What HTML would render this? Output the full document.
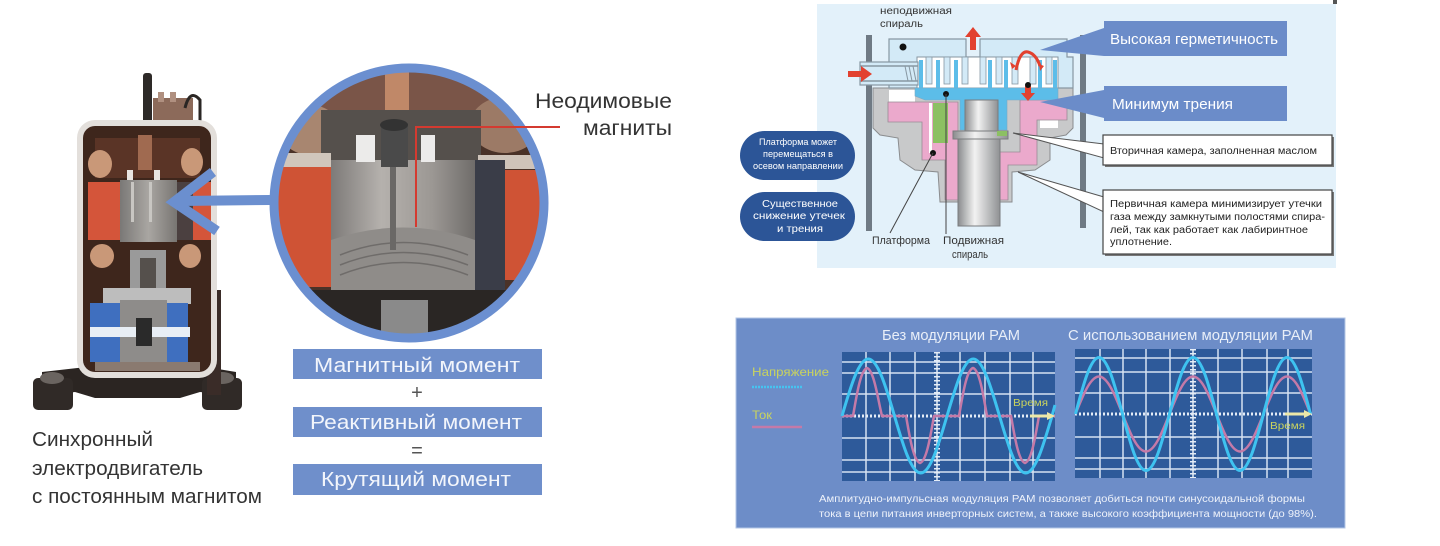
<!DOCTYPE html>
<html><head><meta charset="utf-8"><style>
html,body{margin:0;padding:0;background:#fff;}
svg{display:block;}
text{font-family:"Liberation Sans","DejaVu Sans",sans-serif;}
</style></head><body>
<svg width="1440" height="546" viewBox="0 0 1440 546" xmlns="http://www.w3.org/2000/svg">
<defs>
  <clipPath id="cc"><circle cx="409" cy="203" r="131"/></clipPath>
  <linearGradient id="shaft" x1="0" x2="1" y1="0" y2="0">
    <stop offset="0" stop-color="#8a8c8e"/><stop offset="0.4" stop-color="#f2f2f2"/><stop offset="1" stop-color="#8f9193"/>
  </linearGradient>
  <linearGradient id="rot" x1="0" x2="1" y1="0" y2="0">
    <stop offset="0" stop-color="#7d7a78"/><stop offset="0.35" stop-color="#b5b1ad"/><stop offset="0.7" stop-color="#9c9894"/><stop offset="1" stop-color="#6f6c6a"/>
  </linearGradient>
  <linearGradient id="rot2" x1="0" x2="1" y1="0" y2="0">
    <stop offset="0" stop-color="#7a7876"/><stop offset="0.5" stop-color="#a9a6a2"/><stop offset="1" stop-color="#787572"/>
  </linearGradient>
</defs>

<!-- ================= LEFT: compressor ================= -->
<!-- antenna & terminals -->
<rect x="143" y="73" width="9" height="50" rx="3" fill="#2e2a28"/>
<rect x="153" y="98" width="40" height="25" fill="#8c6a5a"/>
<rect x="158" y="92" width="6" height="10" fill="#b09080"/>
<rect x="170" y="92" width="6" height="10" fill="#b09080"/>
<path d="M185 108 Q190 88 200 100 L200 123" stroke="#2a2624" stroke-width="3" fill="none"/>
<!-- base -->
<path d="M42 372 L95 366 L200 366 L236 372 L236 396 L200 392 L180 398 L95 398 L75 392 L42 396 Z" fill="#2b2522"/>
<rect x="33" y="378" width="40" height="32" rx="5" fill="#302a27"/>
<rect x="202" y="378" width="40" height="32" rx="5" fill="#302a27"/>
<ellipse cx="52" cy="378" rx="12" ry="6" fill="#6a6460"/>
<ellipse cx="222" cy="378" rx="12" ry="6" fill="#6a6460"/>
<rect x="207" y="290" width="14" height="105" fill="#3a2c28"/>
<!-- shell -->
<rect x="77" y="120" width="140" height="258" rx="18" fill="#e3dfdb"/>
<rect x="83" y="126" width="128" height="246" rx="12" fill="#3e261c"/>
<!-- upper windings -->
<rect x="95" y="138" width="105" height="40" fill="#5a3426"/>
<rect x="138" y="135" width="14" height="35" fill="#a06a50"/>
<ellipse cx="100" cy="164" rx="12" ry="14" fill="#c99878"/>
<ellipse cx="192" cy="162" rx="11" ry="14" fill="#c99878"/>
<rect x="127" y="170" width="6" height="12" fill="#e8e4e0"/>
<rect x="154" y="170" width="6" height="12" fill="#e8e4e0"/>
<!-- red blocks & rotor -->
<rect x="88" y="182" width="32" height="58" fill="#d4553a"/>
<rect x="193" y="182" width="18" height="58" fill="#d4553a"/>
<rect x="177" y="182" width="16" height="58" fill="#4b4040"/>
<rect x="120" y="180" width="57" height="62" fill="url(#rot2)"/>
<rect x="131" y="182" width="3" height="40" fill="#c8c6c2"/>
<rect x="149" y="182" width="3" height="40" fill="#c8c6c2"/>
<!-- lower windings -->
<ellipse cx="102" cy="256" rx="12" ry="12" fill="#c99878"/>
<ellipse cx="190" cy="256" rx="11" ry="12" fill="#c99878"/>
<rect x="130" y="250" width="36" height="50" fill="#9a9a9a"/>
<rect x="140" y="258" width="16" height="30" fill="#55504c"/>
<rect x="103" y="288" width="88" height="16" fill="#bdbdbd"/>
<!-- blue & mechanism -->
<rect x="90" y="303" width="30" height="24" fill="#3f6fbf"/>
<rect x="90" y="337" width="30" height="25" fill="#3f6fbf"/>
<rect x="167" y="303" width="21" height="24" fill="#3f6fbf"/>
<rect x="167" y="337" width="21" height="25" fill="#3f6fbf"/>
<rect x="120" y="300" width="47" height="65" fill="#8e8c8a"/>
<rect x="90" y="327" width="100" height="10" fill="#e8eef5"/>
<rect x="136" y="318" width="16" height="28" fill="#2a2a2a"/>
<rect x="95" y="362" width="105" height="9" fill="#8a7a70"/>
<!-- blue arrow -->
<line x1="270" y1="200" x2="180" y2="201" stroke="#6b8fcf" stroke-width="10"/>
<polyline points="213,172 174,202 217,231" fill="none" stroke="#6b8fcf" stroke-width="10" stroke-linejoin="miter"/>

<!-- circle zoom -->
<g clip-path="url(#cc)">
  <rect x="270" y="60" width="280" height="290" fill="#4a3228"/>
  <rect x="270" y="60" width="280" height="55" fill="#7a5548"/>
  <ellipse cx="310" cy="130" rx="30" ry="25" fill="#a88670"/>
  <ellipse cx="505" cy="125" rx="35" ry="28" fill="#9c7a66"/>
  <rect x="385" y="70" width="24" height="40" fill="#c08868"/>
  <rect x="321" y="110" width="160" height="52" fill="#55504c"/>
  <rect x="278" y="153" width="53" height="16" fill="#d0c6bc"/>
  <rect x="478" y="155" width="60" height="14" fill="#cfc4ba"/>
  <rect x="276" y="167" width="55" height="120" fill="#cf5335"/>
  <rect x="471" y="160" width="34" height="130" fill="#3a3d48"/>
  <rect x="505" y="170" width="35" height="110" fill="#cf5335"/>
  <rect x="331" y="160" width="144" height="137" fill="url(#rot)"/>
  <path d="M331 240 Q403 215 475 240 L475 297 L331 297 Z" fill="#8f8c89"/>
  <path d="M340 255 Q403 230 468 255 M340 265 Q403 240 468 265 M340 275 Q403 250 468 275" stroke="#6f6c6a" stroke-width="1.5" fill="none"/>
  <rect x="390" y="165" width="6" height="85" fill="#6a6866"/>
  <rect x="356" y="135" width="19" height="27" fill="#ecebea"/>
  <rect x="421" y="135" width="14" height="27" fill="#ecebea"/>
  <rect x="381" y="123" width="27" height="44" fill="#4a4a4a"/>
  <ellipse cx="394" cy="125" rx="14" ry="6" fill="#333"/>
  <rect x="270" y="290" width="280" height="60" fill="#2a2624"/>
  <rect x="381" y="300" width="47" height="50" fill="#8a8a8a"/>
</g>
<circle cx="409" cy="203" r="135" fill="none" stroke="#6b8fd0" stroke-width="9"/>
<polyline points="416,227 416,127 560,127" fill="none" stroke="#d43a30" stroke-width="2"/>

<text x="535" y="108" font-size="21" fill="#333" textLength="137" lengthAdjust="spacingAndGlyphs">Неодимовые</text>
<text x="583" y="135" font-size="21" fill="#333" textLength="89" lengthAdjust="spacingAndGlyphs">магниты</text>

<!-- formula boxes -->
<rect x="293" y="349" width="249" height="30" fill="#6f8fcb"/>
<rect x="293" y="407" width="249" height="30" fill="#6f8fcb"/>
<rect x="293" y="464" width="249" height="31" fill="#6f8fcb"/>
<text x="314" y="372" font-size="20" fill="#f2f5fb" textLength="206" lengthAdjust="spacingAndGlyphs">Магнитный момент</text>
<text x="417" y="399" font-size="20" fill="#555" text-anchor="middle">+</text>
<text x="310" y="429" font-size="20" fill="#f2f5fb" textLength="212" lengthAdjust="spacingAndGlyphs">Реактивный момент</text>
<text x="417" y="457" font-size="20" fill="#555" text-anchor="middle">=</text>
<text x="321" y="486" font-size="20" fill="#f2f5fb" textLength="190" lengthAdjust="spacingAndGlyphs">Крутящий момент</text>

<text x="32" y="446" font-size="20" fill="#333" textLength="121" lengthAdjust="spacingAndGlyphs">Синхронный</text>
<text x="32" y="475" font-size="20" fill="#333" textLength="171" lengthAdjust="spacingAndGlyphs">электродвигатель</text>
<text x="32" y="503" font-size="20" fill="#333" textLength="230" lengthAdjust="spacingAndGlyphs">с постоянным магнитом</text>

<!-- ================= RIGHT TOP: scroll diagram ================= -->
<rect x="817" y="4" width="519" height="264" fill="#e3f1fa"/>
<rect x="1333" y="0" width="4" height="4" fill="#555"/>

<!-- bars -->
<rect x="866" y="35" width="6" height="196" fill="#6f7a84"/>
<rect x="1080" y="35" width="6" height="193" fill="#6f7a84"/>

<!-- grey frame -->
<polygon points="873,88 1073,88 1073,128 1066,135 1050,138 1050,160 1035,170 1012,172 1012,202 940,202 938,172 915,170 900,160 898,138 880,135 873,128" fill="#c8c9ca" stroke="#8a8c8e" stroke-width="1"/>
<rect x="889" y="90" width="26" height="13" fill="#ffffff"/>
<rect x="1040" y="120" width="18" height="8" fill="#ffffff"/>
<!-- pink -->
<polygon points="888,102 958,102 958,200 945,200 945,160 922,160 922,122 888,122" fill="#eba9cc" stroke="#9a8a95" stroke-width="0.8"/>
<polygon points="1020,100 1067,100 1067,120 1037,120 1037,165 1008,165 1008,200 998,200 998,152 1020,152" fill="#eba9cc" stroke="#9a8a95" stroke-width="0.8"/>
<rect x="933" y="103" width="15" height="40" fill="#8cc063"/>
<rect x="929" y="103" width="3" height="50" fill="#ffffff"/>

<!-- fixed scroll -->
<polygon points="889,39 966,39 966,57 980,57 980,39 1067,39 1067,57 1073,57 1073,88 889,88" fill="#d3eaf7" stroke="#8797a2" stroke-width="1.2"/>
<rect x="917" y="57" width="141" height="31" fill="#ffffff" stroke="#8797a2" stroke-width="1"/>
<g fill="#d3eaf7" stroke="#8797a2" stroke-width="0.8">
  <rect x="926" y="57" width="6" height="27"/><rect x="944" y="57" width="6" height="27"/>
  <rect x="962" y="57" width="6" height="27"/><rect x="980" y="57" width="6" height="27"/>
  <rect x="996" y="57" width="6" height="27"/><rect x="1012" y="57" width="6" height="27"/>
  <rect x="1030" y="57" width="6" height="27"/><rect x="1046" y="57" width="6" height="27"/>
</g>
<g fill="#5cbde9">
  <rect x="919" y="60" width="4" height="30"/><rect x="936" y="60" width="4" height="30"/>
  <rect x="954" y="60" width="4" height="30"/><rect x="988" y="60" width="4" height="30"/>
  <rect x="1004" y="60" width="4" height="30"/><rect x="1038" y="60" width="4" height="30"/>
  <rect x="1053" y="60" width="4" height="30"/>
</g>
<!-- inlet pipe -->
<rect x="860" y="62" width="58" height="23" fill="#d3eaf7" stroke="#8797a2" stroke-width="1.2"/>
<line x1="860" y1="66" x2="918" y2="66" stroke="#8797a2" stroke-width="1.5"/>
<line x1="860" y1="81" x2="918" y2="81" stroke="#8797a2" stroke-width="1.5"/>
<path d="M905 66 L908 81 M909 66 L912 81 M913 66 L916 81" stroke="#8797a2" stroke-width="1"/>
<!-- orbiting scroll -->
<polygon points="915,88 1058,88 1058,100 1007,100 1007,130 960,130 960,100 925,100 915,96" fill="#5cbde9" stroke="#7aa9c4" stroke-width="0.6"/>
<!-- shaft -->
<rect x="958" y="138" width="42" height="88" fill="url(#shaft)" stroke="#7a7c7e" stroke-width="1"/>
<rect x="953" y="131" width="55" height="8" fill="url(#shaft)" stroke="#7a7c7e" stroke-width="1"/>
<rect x="965" y="100" width="33" height="31" fill="url(#shaft)" stroke="#7a7c7e" stroke-width="1"/>
<rect x="997" y="131" width="10" height="5" fill="#8cc063"/>

<!-- red arrows -->
<g fill="#e2412f">
  <rect x="848" y="71" width="14" height="6"/><polygon points="861,66 872,74 861,82"/>
  <rect x="970" y="36" width="6" height="14"/><polygon points="965,37 973,27 981,37"/>
  <rect x="1025" y="86" width="6" height="8"/><polygon points="1021,93 1028,101 1035,93"/>
  <polygon points="1010,62 1016,66 1012,69"/><polygon points="1039,64 1044,66 1040,71"/>
</g>
<path d="M1016 70 Q1020 50 1028 52 Q1036 54 1040 66" stroke="#e2412f" stroke-width="3" fill="none"/>

<!-- dots & leaders -->
<g fill="#111"><circle cx="903" cy="47" r="3.5"/><circle cx="946" cy="94" r="3"/><circle cx="933" cy="153" r="3"/><circle cx="1028" cy="85" r="3"/></g>
<line x1="933" y1="153" x2="890" y2="233" stroke="#444" stroke-width="1"/>
<line x1="946" y1="94" x2="946" y2="234" stroke="#444" stroke-width="1"/>

<!-- callouts -->
<polygon points="1104,28 1040,50 1104,56" fill="#6b8cc9"/>
<polygon points="1104,90 1040,102 1104,118" fill="#6b8cc9"/>
<rect x="1104" y="21" width="183" height="35" fill="#6b8cc9"/>
<rect x="1104" y="86" width="183" height="35" fill="#6b8cc9"/>
<text x="1110" y="44" font-size="15" fill="#ffffff" textLength="168" lengthAdjust="spacingAndGlyphs">Высокая герметичность</text>
<text x="1112" y="109" font-size="15" fill="#ffffff" textLength="121" lengthAdjust="spacingAndGlyphs">Минимум трения</text>

<polygon points="1104,144 1013,133 1104,158" fill="#ffffff" stroke="#555" stroke-width="1"/>
<polygon points="1104,197 1018,172 1104,212" fill="#ffffff" stroke="#555" stroke-width="1"/>
<rect x="1105" y="137" width="229" height="30" fill="#777"/>
<rect x="1103" y="135" width="229" height="30" fill="#ffffff" stroke="#444" stroke-width="1.2"/>
<rect x="1105" y="192" width="229" height="64" fill="#777"/>
<rect x="1103" y="190" width="229" height="64" fill="#ffffff" stroke="#444" stroke-width="1.2"/>
<text x="1110" y="154" font-size="10" fill="#222" textLength="207" lengthAdjust="spacingAndGlyphs">Вторичная камера, заполненная маслом</text>
<text x="1110" y="207" font-size="10" fill="#222" textLength="212" lengthAdjust="spacingAndGlyphs">Первичная камера минимизирует утечки</text>
<text x="1110" y="220" font-size="10" fill="#222" textLength="215" lengthAdjust="spacingAndGlyphs">газа между замкнутыми полостями спира-</text>
<text x="1110" y="233" font-size="10" fill="#222" textLength="198" lengthAdjust="spacingAndGlyphs">лей, так как работает  как лабиринтное</text>
<text x="1110" y="245" font-size="10" fill="#222" textLength="62" lengthAdjust="spacingAndGlyphs">уплотнение.</text>

<!-- ovals -->
<rect x="740" y="131" width="115" height="49" rx="24.5" fill="#2c5597"/>
<rect x="740" y="192" width="115" height="49" rx="24.5" fill="#2c5597"/>
<text x="759" y="145" font-size="9.5" fill="#fff" textLength="78" lengthAdjust="spacingAndGlyphs">Платформа может</text>
<text x="763" y="157" font-size="9.5" fill="#fff" textLength="70" lengthAdjust="spacingAndGlyphs">перемещаться в</text>
<text x="753" y="169" font-size="9.5" fill="#fff" textLength="90" lengthAdjust="spacingAndGlyphs">осевом направлении</text>
<text x="762" y="207" font-size="10.5" fill="#fff" textLength="76" lengthAdjust="spacingAndGlyphs">Существенное</text>
<text x="753" y="219" font-size="10.5" fill="#fff" textLength="92" lengthAdjust="spacingAndGlyphs">снижение утечек</text>
<text x="777" y="232" font-size="10.5" fill="#fff" textLength="46" lengthAdjust="spacingAndGlyphs">и трения</text>

<!-- labels -->
<text x="880" y="14" font-size="10" fill="#333" textLength="72" lengthAdjust="spacingAndGlyphs">неподвижная</text>
<text x="880" y="27" font-size="10" fill="#333" textLength="43" lengthAdjust="spacingAndGlyphs">спираль</text>
<text x="872" y="244" font-size="11" fill="#333" textLength="58" lengthAdjust="spacingAndGlyphs">Платформа</text>
<text x="943" y="244" font-size="11" fill="#333" textLength="61" lengthAdjust="spacingAndGlyphs">Подвижная</text>
<text x="952" y="258" font-size="11" fill="#333" textLength="36" lengthAdjust="spacingAndGlyphs">спираль</text>

<!-- ================= RIGHT BOTTOM: PAM ================= -->
<rect x="736" y="318" width="609" height="210" fill="#6d8dc8" stroke="#b3c6e6" stroke-width="1"/>
<text x="882" y="340" font-size="14.5" fill="#e8eef8" textLength="138" lengthAdjust="spacingAndGlyphs">Без модуляции РАМ</text>
<text x="1068" y="340" font-size="14.5" fill="#e8eef8" textLength="245" lengthAdjust="spacingAndGlyphs">С использованием модуляции РАМ</text>

<text x="752" y="376" font-size="12" fill="#c9d35e" textLength="77" lengthAdjust="spacingAndGlyphs">Напряжение</text>
<line x1="752" y1="387" x2="802" y2="387" stroke="#46c3f0" stroke-width="2.5" stroke-dasharray="2 1"/>
<text x="752" y="419" font-size="12" fill="#c9d35e" textLength="20" lengthAdjust="spacingAndGlyphs">Ток</text>
<line x1="752" y1="427" x2="802" y2="427" stroke="#c47aa8" stroke-width="2.5"/>

<!-- left chart -->
<rect x="842" y="352" width="213" height="129" fill="#2e5a9a"/>
<g stroke="#d6e2f2" stroke-width="1.5">
  <line x1="866" y1="352" x2="866" y2="481"/><line x1="890" y1="352" x2="890" y2="481"/>
  <line x1="915" y1="352" x2="915" y2="481"/><line x1="960" y1="352" x2="960" y2="481"/>
  <line x1="985" y1="352" x2="985" y2="481"/><line x1="1010" y1="352" x2="1010" y2="481"/>
  <line x1="1033" y1="352" x2="1033" y2="481"/>
  <line x1="842" y1="362" x2="1055" y2="362"/><line x1="842" y1="373" x2="1055" y2="373"/>
  <line x1="842" y1="394" x2="1055" y2="394"/><line x1="842" y1="438" x2="1055" y2="438"/>
  <line x1="842" y1="460" x2="1055" y2="460"/><line x1="842" y1="472" x2="1055" y2="472"/>
</g>
<g stroke="#e4ecf6">
  <line x1="937" y1="352" x2="937" y2="481" stroke-width="1.5"/>
  <line x1="937" y1="352" x2="937" y2="481" stroke-width="6" stroke-dasharray="1.5 2.5"/>
  <line x1="842" y1="416" x2="1055" y2="416" stroke-width="3" stroke-dasharray="2 2"/>
</g>
<path d="M842 416 L853 416 C856 400, 860 370, 867 368 C874 370, 878 400, 882 416 L906 416 C909 432, 913 461, 920 463 C927 461, 931 432, 934 416 L959 416 C962 400, 966 370, 973 368 C980 370, 984 400, 987 416 L1011 416 C1014 432, 1018 461, 1025 463 C1032 461, 1036 432, 1039 416 L1055 416" fill="none" stroke="#c47aa8" stroke-width="2.5"/>
<path d="M842 416 C850.56 386.8, 858.75 359, 868.25 359 C877.75 359, 885.94 386.8, 894.5 416 C903.06 445.2, 911.25 473, 920.75 473 C930.25 473, 938.44 445.2, 947 416 C955.56 386.8, 963.75 359, 973.25 359 C982.75 359, 990.94 386.8, 999.5 416 C1008.06 445.2, 1016.25 473, 1025.75 473 C1035.25 473, 1043.44 445.2, 1052 416 L1055 405" fill="none" stroke="#3ec3f0" stroke-width="3"/>
<line x1="1030" y1="416" x2="1048" y2="416" stroke="#ece8a8" stroke-width="3"/>
<polygon points="1047,412 1055,416 1047,420" fill="#ece8a8"/>
<text x="1013" y="406" font-size="10.5" fill="#c9d35e" textLength="35" lengthAdjust="spacingAndGlyphs">Время</text>

<!-- right chart -->
<rect x="1075" y="349" width="237" height="129" fill="#2e5a9a"/>
<g stroke="#d6e2f2" stroke-width="1.5">
  <line x1="1100" y1="349" x2="1100" y2="478"/><line x1="1123" y1="349" x2="1123" y2="478"/>
  <line x1="1146" y1="349" x2="1146" y2="478"/><line x1="1170" y1="349" x2="1170" y2="478"/>
  <line x1="1218" y1="349" x2="1218" y2="478"/><line x1="1242" y1="349" x2="1242" y2="478"/>
  <line x1="1267" y1="349" x2="1267" y2="478"/><line x1="1288" y1="349" x2="1288" y2="478"/>
  <line x1="1075" y1="358" x2="1312" y2="358"/><line x1="1075" y1="372" x2="1312" y2="372"/>
  <line x1="1075" y1="393" x2="1312" y2="393"/><line x1="1075" y1="437" x2="1312" y2="437"/>
  <line x1="1075" y1="458" x2="1312" y2="458"/><line x1="1075" y1="469" x2="1312" y2="469"/>
</g>
<g stroke="#e4ecf6">
  <line x1="1193" y1="349" x2="1193" y2="478" stroke-width="1.5"/>
  <line x1="1193" y1="349" x2="1193" y2="478" stroke-width="6" stroke-dasharray="1.5 2.5"/>
  <line x1="1075" y1="414" x2="1312" y2="414" stroke-width="3" stroke-dasharray="2 2"/>
</g>
<path d="M1075.5 414 C1083.16 394.8, 1090.5 376.5, 1099 376.5 C1107.5 376.5, 1114.84 394.8, 1122.5 414 C1130.16 433.2, 1137.5 451.5, 1146 451.5 C1154.5 451.5, 1161.84 433.2, 1169.5 414 C1177.16 394.8, 1184.5 376.5, 1193 376.5 C1201.5 376.5, 1208.84 394.8, 1216.5 414 C1224.16 433.2, 1231.5 451.5, 1240 451.5 C1248.5 451.5, 1255.84 433.2, 1263.5 414 C1271.16 394.8, 1278.5 376.5, 1287 376.5 C1295.5 376.5, 1302.84 394.8, 1310.5 414" fill="none" stroke="#c47aa8" stroke-width="2.5"/>
<path d="M1075.5 414 C1083.16 385.1, 1090.5 357.5, 1099 357.5 C1107.5 357.5, 1114.84 385.1, 1122.5 414 C1130.16 442.9, 1137.5 470.5, 1146 470.5 C1154.5 470.5, 1161.84 442.9, 1169.5 414 C1177.16 385.1, 1184.5 357.5, 1193 357.5 C1201.5 357.5, 1208.84 385.1, 1216.5 414 C1224.16 442.9, 1231.5 470.5, 1240 470.5 C1248.5 470.5, 1255.84 442.9, 1263.5 414 C1271.16 385.1, 1278.5 357.5, 1287 357.5 C1295.5 357.5, 1302.84 385.1, 1310.5 414" fill="none" stroke="#3ec3f0" stroke-width="3"/>
<line x1="1285" y1="414" x2="1305" y2="414" stroke="#ece8a8" stroke-width="3"/>
<polygon points="1304,410 1312,414 1304,418" fill="#ece8a8"/>
<text x="1270" y="429" font-size="10.5" fill="#c9d35e" textLength="35" lengthAdjust="spacingAndGlyphs">Время</text>

<text x="819" y="502" font-size="10.5" fill="#eef2fa" textLength="486" lengthAdjust="spacingAndGlyphs">Амплитудно-импульсная модуляция РАМ позволяет добиться почти синусоидальной формы</text>
<text x="819" y="517" font-size="10.5" fill="#eef2fa" textLength="498" lengthAdjust="spacingAndGlyphs">тока в цепи питания инверторных систем, а также высокого коэффициента мощности (до 98%).</text>
</svg>
</body></html>
